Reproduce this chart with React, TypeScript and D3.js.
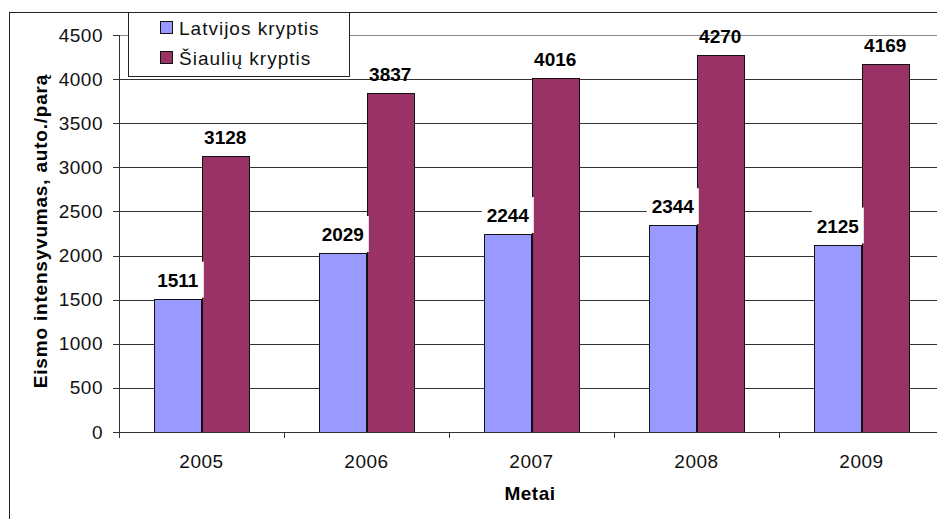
import * as d3 from "d3";

const years = ["2005", "2006", "2007", "2008", "2009"];
const latvijos = [1511, 2029, 2244, 2344, 2125];
const siauliu = [3128, 3837, 4016, 4270, 4169];
const seriesNames = ["Latvijos kryptis", "Šiaulių kryptis"];
const seriesColors = ["#9999FF", "#993366"];
const yTitle = "Eismo intensyvumas, auto./parą";
const xTitle = "Metai";

const FONT = "'Liberation Sans', Arial, sans-serif";

export default function App() {
  const W = 937;
  const H = 519;
  const plot = { left: 119, right: 944, top: 35, bottom: 432 };

  const x0 = d3.scaleBand<string>().domain(years).range([plot.left, plot.right]).padding(0);
  const x1 = d3
    .scaleBand<string>()
    .domain(seriesNames)
    .range([0, x0.bandwidth()])
    .paddingInner(0)
    .paddingOuter(0.74);
  const y = d3.scaleLinear().domain([0, 4500]).range([plot.bottom, plot.top]);
  const yTicks = y.ticks(9);
  const values = [latvijos, siauliu];

  return (
    <svg
      width={W}
      height={H}
      style={{ position: "absolute", left: 0, top: 0, background: "#fff" }}
      fontFamily={FONT}
    >
      <rect x={0} y={0} width={W} height={H} fill="#fff" />
      {/* outer chart border */}
      <rect x={9.5} y={12.5} width={1000} height={600} fill="none" stroke="#222" strokeWidth={1} />

      {/* gridlines */}
      {yTicks.map((t) => (
        <line
          key={"g" + t}
          x1={plot.left}
          x2={plot.right}
          y1={Math.round(y(t)) + 0.5}
          y2={Math.round(y(t)) + 0.5}
          stroke={t === 4500 ? "#888" : "#333"}
          strokeWidth={1}
        />
      ))}

      {/* bars */}
      {years.map((yr, i) =>
        seriesNames.map((s, j) => {
          const bx = x0(yr)! + x1(s)!;
          const by = y(values[j][i]);
          return (
            <rect
              key={yr + s}
              x={Math.round(bx) + 0.5}
              y={Math.round(by) + 0.5}
              width={Math.round(x1.bandwidth())}
              height={Math.round(plot.bottom - by)}
              fill={seriesColors[j]}
              stroke="#111"
              strokeWidth={1}
            />
          );
        })
      )}

      {/* axes */}
      <line x1={plot.left + 0.5} x2={plot.left + 0.5} y1={plot.top} y2={plot.bottom + 6} stroke="#333" />
      <line x1={plot.left - 6} x2={plot.right} y1={plot.bottom + 0.5} y2={plot.bottom + 0.5} stroke="#333" />
      {yTicks.map((t) => (
        <g key={"yt" + t}>
          <line
            x1={plot.left - 6}
            x2={plot.left}
            y1={Math.round(y(t)) + 0.5}
            y2={Math.round(y(t)) + 0.5}
            stroke="#333"
          />
          <text
            x={103}
            y={y(t)}
            textAnchor="end"
            dominantBaseline="central"
            fontSize={19}
            letterSpacing={0.5}
            fill="#111"
          >
            {t}
          </text>
        </g>
      ))}
      {years.map((yr) => (
        <g key={"xt" + yr}>
          <line
            x1={Math.round(x0(yr)! + x0.bandwidth()) + 0.5}
            x2={Math.round(x0(yr)! + x0.bandwidth()) + 0.5}
            y1={plot.bottom}
            y2={plot.bottom + 6}
            stroke="#333"
          />
          <text
            x={x0(yr)! + x0.bandwidth() / 2}
            y={461}
            textAnchor="middle"
            dominantBaseline="central"
            fontSize={19}
            letterSpacing={0.5}
            fill="#111"
          >
            {yr}
          </text>
        </g>
      ))}

      {/* data labels */}
      {years.map((yr, i) =>
        seriesNames.map((s, j) => {
          const cx = x0(yr)! + x1(s)! + x1.bandwidth() / 2;
          const top = y(values[j][i]);
          const base = top - 12;
          return (
            <g key={"l" + yr + s}>
              {j === 0 && (
                <rect x={cx - 26} y={base - 25} width={52} height={36} fill="#fff" />
              )}
              <text
                x={cx}
                y={base}
                textAnchor="middle"
                fontSize={19}
                fontWeight="bold"
                fill="#000"
              >
                {values[j][i]}
              </text>
            </g>
          );
        })
      )}

      {/* axis titles */}
      <text
        transform={`translate(40,231) rotate(-90)`}
        textAnchor="middle"
        dominantBaseline="central"
        fontSize={19}
        fontWeight="bold"
        letterSpacing={0.8}
        fill="#000"
      >
        {yTitle}
      </text>
      <text x={530} y={493} textAnchor="middle" dominantBaseline="central" fontSize={19} fontWeight="bold" letterSpacing={0.5} fill="#000">
        {xTitle}
      </text>

      {/* legend */}
      <rect x={128.5} y={12.5} width={221} height={64} fill="#fff" stroke="#222" />
      {seriesNames.map((s, j) => (
        <g key={"lg" + s} transform={`translate(160,${28 + j * 30})`}>
          <rect x={0.5} y={-6.5} width={12} height={12} fill={seriesColors[j]} stroke="#111" />
          <text x={19} y={0} dominantBaseline="central" fontSize={19} letterSpacing={1} fill="#111">
            {s}
          </text>
        </g>
      ))}
    </svg>
  );
}
